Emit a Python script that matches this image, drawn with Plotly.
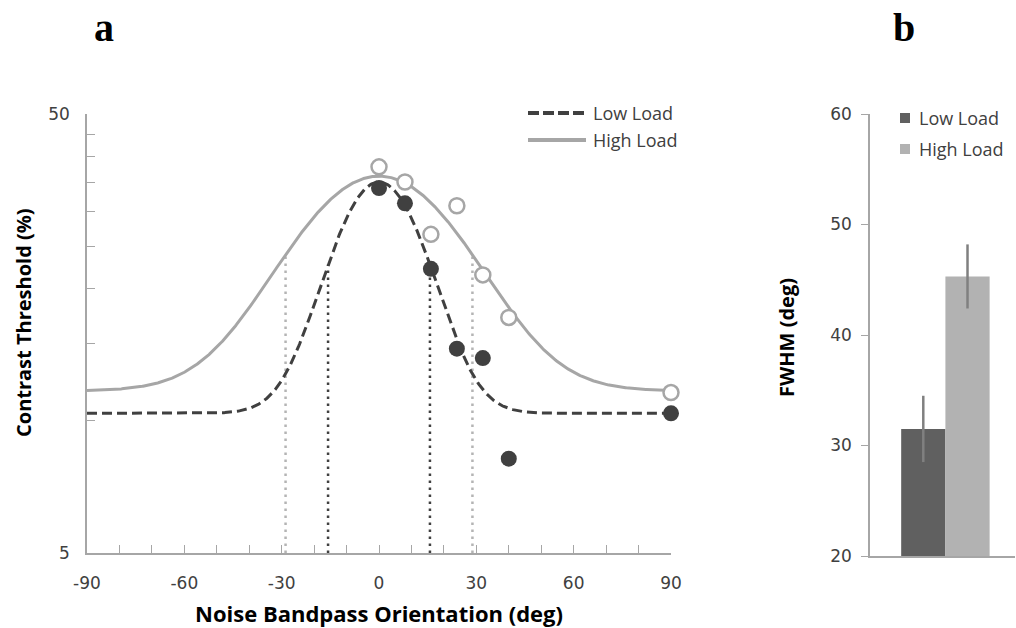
import numpy as np
import plotly.graph_objects as go

# --- measured thresholds (panel a) ---
orientations = [0, 8, 16, 24, 32, 40, 90]
low_load_thresh = [33.9, 31.3, 22.2, 14.6, 13.9, 8.2, 10.4]
high_load_thresh = [37.9, 35.0, 26.6, 30.9, 21.5, 17.2, 11.6]

# Gaussian fit parameters: baseline, peak, full width at half maximum (deg)
low_fit = dict(base=10.4, peak=35.0, fwhm=31.4)
high_fit = dict(base=11.7, peak=36.1, fwhm=57.6)

orient_ticks = [-90, -60, -30, 0, 30, 60, 90]
thr_ticks = [5, 10, 15, 20, 25, 30, 35, 40, 45, 50]

# --- FWHM summary (panel b) ---
conditions = ["Low Load", "High Load"]
fwhm_mean = [31.5, 45.3]
fwhm_err = [3.0, 2.9]

DARK = "#404040"
LIGHT = "#a6a6a6"
LIGHT_DOT = "#b4b4b4"
BAR_DARK = "#606060"
BAR_LIGHT = "#b2b2b2"
AXIS = "#a6a6a6"
FONT = "Open Sans"
TICK_FONT = "DejaVu Sans"

W, H = 1016, 628


def px_x(p):
    return p / W


def px_y(p):
    return 1 - p / H


def gauss(x, base, peak, fwhm):
    sigma = fwhm / (2 * np.sqrt(2 * np.log(2)))
    return base + (peak - base) * np.exp(-np.asarray(x) ** 2 / (2 * sigma ** 2))


xs = np.linspace(-90, 90, 721)

fig = go.Figure()

# half-maximum markers
for fit, col in ((high_fit, LIGHT_DOT), (low_fit, DARK)):
    hw = fit["fwhm"] / 2
    half = (fit["base"] + fit["peak"]) / 2
    for sx in (-hw, hw):
        fig.add_trace(go.Scatter(
            x=[sx, sx], y=[5, half], mode="lines",
            line=dict(color=col, width=2.5, dash="2.5px,4.5px"),
            showlegend=False, hoverinfo="skip", xaxis="x", yaxis="y"))

fig.add_trace(go.Scatter(
    x=xs, y=gauss(xs, **low_fit), mode="lines", name="Low Load",
    line=dict(color=DARK, width=3, dash="10px,5px"), showlegend=False,
    xaxis="x", yaxis="y"))
fig.add_trace(go.Scatter(
    x=xs, y=gauss(xs, **high_fit), mode="lines", name="High Load",
    line=dict(color=LIGHT, width=3), showlegend=False,
    xaxis="x", yaxis="y"))

fig.add_trace(go.Scatter(
    x=orientations, y=high_load_thresh, mode="markers", showlegend=False,
    marker=dict(size=15, color="white", line=dict(color=LIGHT, width=2.5)),
    cliponaxis=False, xaxis="x", yaxis="y"))
fig.add_trace(go.Scatter(
    x=orientations, y=low_load_thresh, mode="markers", showlegend=False,
    marker=dict(size=16, color=DARK, line=dict(width=0)),
    cliponaxis=False, xaxis="x", yaxis="y"))

# panel b bars
for cond, m, e, col in zip(conditions, fwhm_mean, fwhm_err, (BAR_DARK, BAR_LIGHT)):
    fig.add_trace(go.Bar(
        x=["FWHM"], y=[m], name=cond, marker=dict(color=col, line=dict(width=0)),
        error_y=dict(type="data", array=[e], color="#808080", thickness=2.5, width=0),
        showlegend=False, xaxis="x2", yaxis="y2"))

tick_font = dict(family=TICK_FONT, size=17, color="#404040")
title_font = dict(family=FONT, size=22, color="black", weight="bold")
legend_font = dict(family=FONT, size=18, color="#404040")

# legend keys
shapes = [
    dict(type="line", xref="paper", yref="paper",
         x0=px_x(528), x1=px_x(586), y0=px_y(113), y1=px_y(113),
         line=dict(color=DARK, width=4, dash="11px,4px")),
    dict(type="line", xref="paper", yref="paper",
         x0=px_x(528), x1=px_x(586), y0=px_y(140), y1=px_y(140),
         line=dict(color=LIGHT, width=4)),
    dict(type="rect", xref="paper", yref="paper",
         x0=px_x(900), x1=px_x(910), y0=px_y(113), y1=px_y(123),
         fillcolor=BAR_DARK, line=dict(width=0)),
    dict(type="rect", xref="paper", yref="paper",
         x0=px_x(900), x1=px_x(910), y0=px_y(144), y1=px_y(154),
         fillcolor=BAR_LIGHT, line=dict(width=0)),
]


def label(text, x, y, **kw):
    return dict(text=text, x=px_x(x), y=px_y(y), xref="paper", yref="paper",
                showarrow=False, **kw)


annotations = [
    label("Low Load", 591, 113, xanchor="left", yanchor="middle", font=legend_font),
    label("High Load", 591, 140, xanchor="left", yanchor="middle", font=legend_font),
    label("Low Load", 917, 118, xanchor="left", yanchor="middle", font=legend_font),
    label("High Load", 917, 149, xanchor="left", yanchor="middle", font=legend_font),
    label("Contrast Threshold (%)", 23, 323, textangle=-90,
          xanchor="center", yanchor="middle",
          font=dict(family=FONT, size=20, color="black", weight="bold")),
    label("FWHM (deg)", 786, 338, textangle=-90,
          xanchor="center", yanchor="middle",
          font=dict(family=FONT, size=20, color="black", weight="bold")),
    label("a", 104, 27, xanchor="center", yanchor="middle",
          font=dict(family="Liberation Serif", size=40, color="black", weight="bold")),
    label("b", 904, 27, xanchor="center", yanchor="middle",
          font=dict(family="Liberation Serif", size=40, color="black", weight="bold")),
]

fig.update_layout(
    width=W, height=H,
    margin=dict(l=0, r=0, t=0, b=0, autoexpand=False),
    paper_bgcolor="white", plot_bgcolor="white",
    barmode="group", bargap=0.39, bargroupgap=0,
    showlegend=False,
    xaxis=dict(
        domain=[px_x(87), px_x(671)], range=[-90, 90], anchor="y", automargin=False,
        tickvals=orient_ticks, ticktext=[str(v) for v in orient_ticks],
        ticks="inside", ticklen=8, tickcolor=AXIS, tickwidth=1.3,
        minor=dict(dtick=10, tick0=0, ticks="inside", ticklen=8,
                   tickcolor=AXIS, tickwidth=1.3),
        showline=True, linecolor=AXIS, linewidth=1.5, showgrid=False,
        zeroline=False, tickfont=tick_font, ticklabelstandoff=14,
        title=dict(text="Noise Bandpass Orientation (deg)", font=title_font,
                   standoff=15),
    ),
    yaxis=dict(
        domain=[px_y(553), px_y(114)], type="log", automargin=False,
        range=[np.log10(5), np.log10(50)], anchor="x",
        tickvals=thr_ticks,
        ticktext=[str(v) if v in (5, 50) else "" for v in thr_ticks],
        ticks="inside", ticklen=8, tickcolor=AXIS, tickwidth=1.3,
        showline=True, linecolor=AXIS, linewidth=1.5, showgrid=False,
        zeroline=False, tickfont=tick_font, ticklabelstandoff=12,
    ),
    xaxis2=dict(
        domain=[px_x(870), px_x(1015)], anchor="y2", range=[-0.52, 0.48],
        automargin=False,
        showticklabels=False, ticks="", showline=True, linecolor=AXIS,
        linewidth=1.5, showgrid=False, zeroline=False,
    ),
    yaxis2=dict(
        domain=[px_y(556), px_y(114)], anchor="x2", range=[20, 60],
        automargin=False,
        dtick=10, ticks="outside", ticklen=7, tickcolor=AXIS, tickwidth=1.3,
        showline=True, linecolor=AXIS, linewidth=1.5, showgrid=False,
        zeroline=False, tickfont=tick_font, ticklabelstandoff=6,
    ),
    shapes=shapes,
    annotations=annotations,
)

fig.write_html("out.html")
